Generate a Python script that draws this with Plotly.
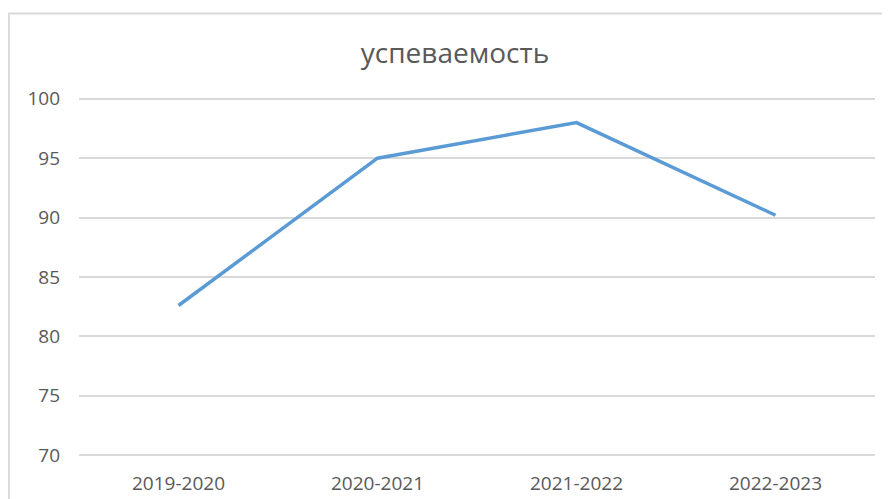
import plotly.graph_objects as go

categories = ["2019-2020", "2020-2021", "2021-2022", "2022-2023"]
values = [82.6, 95.0, 98.0, 90.2]
y_ticks = [70, 75, 80, 85, 90, 95, 100]

# page has an 8px body margin, so figure coordinates are shifted by 8px
W, H = 882, 491
L, R, T, B = 71, 15, 88.7, 41.7
pw, ph = W - L - R, H - T - B

fig = go.Figure()
fig.add_trace(go.Scatter(
    x=categories, y=values, mode="lines",
    line=dict(color="#5B9BD5", width=3.5),
    hoverinfo="x+y",
))

fig.update_layout(
    width=W, height=H,
    margin=dict(l=L, r=R, t=T, b=B, autoexpand=False),
    paper_bgcolor="white", plot_bgcolor="white",
    font=dict(family="Open Sans, sans-serif", color="#595959", size=19),
    title=dict(text="успеваемость", x=447 / W, xanchor="center",
               y=1 - 45 / H, yanchor="middle",
               font=dict(size=28, color="#595959", family="Open Sans, sans-serif")),
    showlegend=False,
    xaxis=dict(type="category", range=[-0.5, 3.5], showgrid=False, zeroline=False,
               showline=False, ticks="", ticklabelstandoff=13, automargin=False,
               tickfont=dict(size=19, color="#595959")),
    yaxis=dict(range=[69.85, 100.15], tickvals=y_ticks, showgrid=True, gridcolor="#D9D9D9",
               gridwidth=1.5, zeroline=False, showline=False, ticks="", automargin=False,
               ticklabelstandoff=18, tickfont=dict(size=19, color="#595959")),
    shapes=[dict(type="rect", xref="paper", yref="paper",
                 x0=(0 - L) / pw + 0.001, x1=1.2, y0=-0.5, y1=1 + (T - 5) / ph,
                 line=dict(color="#D9D9D9", width=2), fillcolor="rgba(0,0,0,0)",
                 layer="below")],
)

fig.write_html("out.html")
